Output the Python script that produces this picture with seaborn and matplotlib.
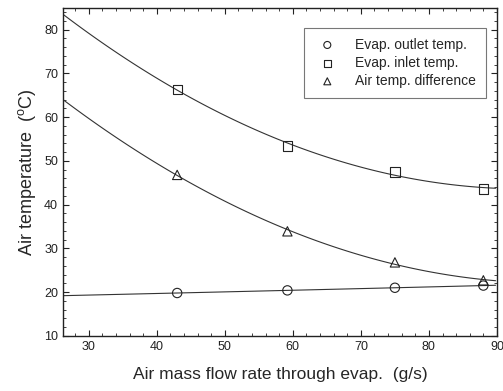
import seaborn as sns
import numpy as np
import matplotlib.pyplot as plt
from matplotlib.ticker import MultipleLocator

# data
flow = [43.0, 59.2, 75.0, 88.0]
outlet_temp = [19.8, 20.4, 21.0, 21.5]
inlet_temp = [66.4, 53.4, 47.5, 43.6]
temp_diff = [46.8, 33.9, 26.8, 22.7]

series = [
    ("Evap. outlet temp.", outlet_temp, "o"),
    ("Evap. inlet temp.", inlet_temp, "s"),
    ("Air temp. difference", temp_diff, "^"),
]

sns.set_style("ticks")
plt.rcParams['font.family'] = ['Liberation Sans', 'DejaVu Sans']
plt.rcParams['mathtext.default'] = 'regular'

fig = plt.figure(figsize=(5.03, 3.91), dpi=100)
ax = fig.add_axes([0.125, 0.141, 0.863, 0.839])
ax.set_xlim(26.2, 89.8)
ax.set_ylim(10, 85)

for name, vals, mk in series:
    # quadratic trend line over the whole x range
    sns.regplot(x=flow, y=vals, order=2, ci=None, truncate=False, scatter=False,
                line_kws=dict(color="#333333", lw=0.8), ax=ax)
    sns.scatterplot(x=flow, y=vals, marker=mk, s=45, facecolors="none",
                    edgecolor="#222222", linewidth=0.8, label=name, ax=ax, zorder=3)

ax.set_xlim(26.2, 89.8)
ax.set_ylim(10, 85)
ax.xaxis.set_major_locator(MultipleLocator(10))
ax.xaxis.set_minor_locator(MultipleLocator(2))
ax.yaxis.set_major_locator(MultipleLocator(10))
ax.yaxis.set_minor_locator(MultipleLocator(2))
ax.tick_params(which="both", direction="in", top=True, right=True, labelsize=9, colors="#222222")
ax.tick_params(which="major", length=4)
ax.tick_params(which="minor", length=2)
ax.set_xticks([30, 40, 50, 60, 70, 80, 90])
ax.set_xticklabels(["30", "40", "50", "60", "70", "80", "90"])
for sp in ax.spines.values():
    sp.set_color("#222222")
    sp.set_linewidth(1.0)

ax.set_xlabel("Air mass flow rate through evap.  (g/s)", fontsize=12.5, labelpad=10)
ax.set_ylabel("Air temperature  ($^{o}$C)", fontsize=13, labelpad=4)

leg = ax.legend(loc="upper right", bbox_to_anchor=(0.99, 0.96), fontsize=10,
                frameon=True, fancybox=False, edgecolor="#555555",
                handletextpad=1.0, borderpad=0.7, labelspacing=0.3, markerscale=0.75)
leg.get_frame().set_linewidth(0.8)

plt.savefig("out.png", dpi=100)
